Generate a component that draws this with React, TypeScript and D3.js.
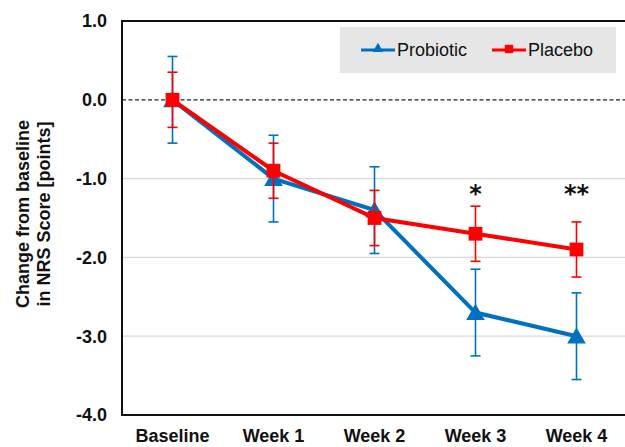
import React, { useRef, useEffect } from 'react';
import * as d3 from 'd3';

const categories = ["Baseline", "Week 1", "Week 2", "Week 3", "Week 4"];
const probioticMean = [0, -1.0, -1.4, -2.7, -3.0];
const probioticErr = [0.55, 0.55, 0.55, 0.55, 0.55];
const placeboMean = [0, -0.9, -1.5, -1.7, -1.9];
const placeboErr = [0.35, 0.35, 0.35, 0.35, 0.35];
const significance = ["", "", "", "*", "**"];
const yTicks = [1, 0, -1, -2, -3, -4];

const App = () => {
    const ref = useRef<HTMLDivElement>(null);

    useEffect(() => {
        const width = 625;
        const height = 447;
        const marginLeft = 122;
        const marginTop = 21;
        const plotRight = 627;
        const plotBottom = 415;
        const font = "'Liberation Sans', Arial, sans-serif";

        const x = d3.scaleBand<string>(categories, [marginLeft, plotRight]);
        const cx = (c: string) => (x(c) as number) + x.bandwidth() / 2;
        const y = d3.scaleLinear([-4, 1], [plotBottom, marginTop]);

        const svg = d3.create("svg")
            .attr("width", width)
            .attr("height", height)
            .attr("viewBox", [0, 0, width, height])
            .style("display", "block")
            .style("font-family", font);

        svg.append("rect").attr("width", width).attr("height", height).attr("fill", "white");

        // grid
        svg.append("g")
            .selectAll("line")
            .data([-1, -2, -3])
            .join("line")
            .attr("x1", marginLeft).attr("x2", plotRight)
            .attr("y1", d => y(d)).attr("y2", d => y(d))
            .attr("stroke", "#d9d9d9")
            .attr("stroke-width", 1.2);

        svg.append("line")
            .attr("x1", marginLeft).attr("x2", plotRight)
            .attr("y1", y(0)).attr("y2", y(0))
            .attr("stroke", "#222")
            .attr("stroke-width", 1.3)
            .attr("stroke-dasharray", "4,2.5");

        // frame
        svg.append("rect")
            .attr("x", marginLeft).attr("y", marginTop)
            .attr("width", plotRight - marginLeft).attr("height", plotBottom - marginTop)
            .attr("fill", "none")
            .attr("stroke", "#111")
            .attr("stroke-width", 2);

        // y ticks
        svg.append("g")
            .selectAll("text")
            .data(yTicks)
            .join("text")
            .attr("x", 107)
            .attr("y", d => y(d))
            .attr("dy", "0.35em")
            .attr("text-anchor", "end")
            .attr("font-size", 18)
            .attr("font-weight", "bold")
            .attr("fill", "#111")
            .text(d => d.toFixed(1));

        // x labels
        svg.append("g")
            .selectAll("text")
            .data(categories)
            .join("text")
            .attr("x", d => cx(d))
            .attr("y", 442)
            .attr("text-anchor", "middle")
            .attr("font-size", 18)
            .attr("font-weight", "bold")
            .attr("fill", "#111")
            .text(d => d);

        // y title
        const title = svg.append("text")
            .attr("transform", `translate(0,214) rotate(-90)`)
            .attr("text-anchor", "middle")
            .attr("font-size", 18)
            .attr("font-weight", "bold")
            .attr("fill", "#111");
        title.append("tspan").attr("x", 0).attr("y", 29).text("Change from baseline");
        title.append("tspan").attr("x", 0).attr("y", 50).text("in NRS Score [points]");

        const series = [
            { name: "Probiotic", mean: probioticMean, err: probioticErr, color: "#0070c0", symbol: d3.symbolTriangle, size: 150 },
            { name: "Placebo", mean: placeboMean, err: placeboErr, color: "#ff0000", symbol: d3.symbolSquare, size: 190 }
        ];

        const line = d3.line<number>()
            .x((_, i) => cx(categories[i]))
            .y(d => y(d));

        series.forEach(s => {
            const g = svg.append("g");
            const eb = g.append("g")
                .attr("stroke", s.color)
                .attr("stroke-width", 1.6);
            s.mean.forEach((m, i) => {
                const px = cx(categories[i]);
                eb.append("line").attr("x1", px).attr("x2", px).attr("y1", y(m + s.err[i])).attr("y2", y(m - s.err[i]));
                eb.append("line").attr("x1", px - 5).attr("x2", px + 5).attr("y1", y(m + s.err[i])).attr("y2", y(m + s.err[i]));
                eb.append("line").attr("x1", px - 5).attr("x2", px + 5).attr("y1", y(m - s.err[i])).attr("y2", y(m - s.err[i]));
            });
            g.append("path")
                .attr("d", line(s.mean))
                .attr("fill", "none")
                .attr("stroke", s.color)
                .attr("stroke-width", 4);
            g.selectAll("path.marker")
                .data(s.mean)
                .join("path")
                .attr("class", "marker")
                .attr("transform", (d, i) => `translate(${cx(categories[i])},${y(d) + (s.symbol === d3.symbolTriangle ? 2 : 0)})`)
                .attr("d", d3.symbol(s.symbol, s.size)())
                .attr("fill", s.color);
        });

        // significance marks
        svg.append("g")
            .selectAll("text")
            .data(significance)
            .join("text")
            .attr("x", (_, i) => cx(categories[i]))
            .attr("y", y(-1.0) + 23)
            .attr("text-anchor", "middle")
            .attr("font-family", "'DejaVu Sans', sans-serif")
            .attr("font-size", 24)
            .attr("font-weight", "bold")
            .attr("fill", "#111")
            .text(d => d);

        // legend
        const lg = svg.append("g");
        lg.append("rect")
            .attr("x", 340).attr("y", 27)
            .attr("width", 276).attr("height", 46)
            .attr("fill", "#e6e6e6");
        series.forEach((s, i) => {
            const lx = i === 0 ? 361 : 492;
            const ly = 50;
            lg.append("line")
                .attr("x1", lx).attr("x2", lx + 34)
                .attr("y1", ly).attr("y2", ly)
                .attr("stroke", s.color)
                .attr("stroke-width", 3);
            lg.append("path")
                .attr("transform", `translate(${lx + 17},${ly - 1})`)
                .attr("d", d3.symbol(s.symbol, s.symbol === d3.symbolTriangle ? 50 : 70)())
                .attr("fill", s.color);
            lg.append("text")
                .attr("x", lx + 36)
                .attr("y", ly)
                .attr("dy", "0.35em")
                .attr("font-size", 18)
                .attr("fill", "#111")
                .text(s.name);
        });

        ref.current?.appendChild(svg.node() as SVGSVGElement);
        return () => {
            if (ref.current) ref.current.innerHTML = '';
        };
    }, []);

    return <div ref={ref} style={{ position: "absolute", left: 0, top: 0 }}></div>;
};

export default App;
